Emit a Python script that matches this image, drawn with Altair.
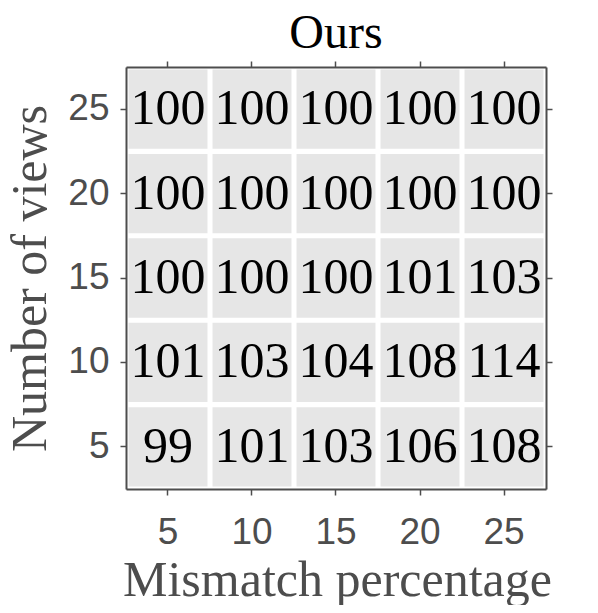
import altair as alt
import pandas as pd

mismatch = [5, 10, 15, 20, 25]
views = [25, 20, 15, 10, 5]
values = [
    [100, 100, 100, 100, 100],
    [100, 100, 100, 100, 100],
    [100, 100, 100, 101, 103],
    [101, 103, 104, 108, 114],
    [99, 101, 103, 106, 108],
]

rows = []
for i, v in enumerate(views):
    for j, m in enumerate(mismatch):
        rows.append({"x": m, "y": v, "val": values[i][j]})
df = pd.DataFrame(rows)

xscale = alt.Scale(domain=mismatch, paddingInner=0.06, paddingOuter=0.03)
yscale = alt.Scale(domain=views, paddingInner=0.06, paddingOuter=0.03)

gray = "#4d4d4d"
common = dict(tickSize=6, tickColor=gray, tickWidth=1.5, domain=True,
              domainColor=gray, domainWidth=2, grid=False)

xaxis = alt.Axis(
    orient="bottom", title="Mismatch percentage", labelAngle=0,
    labelFont="Liberation Sans", labelFontSize=37, labelColor=gray,
    labelPadding=19,
    titleFont="Liberation Serif", titleFontSize=50, titleFontWeight="normal",
    titleColor=gray, titleX=211, titleY=106, titleBaseline="alphabetic",
    titleAlign="center", titleAnchor="middle", **common,
)
yaxis = alt.Axis(
    orient="left", title="Number of views",
    labelFont="Liberation Sans", labelFontSize=37, labelColor=gray,
    labelPadding=11,
    titleFont="Liberation Serif", titleFontSize=50, titleFontWeight="normal",
    titleColor=gray, titleX=-81, titleY=211, titleAngle=270,
    titleBaseline="alphabetic", titleAlign="center", titleAnchor="middle",
    **common,
)
xaxis_top = alt.Axis(orient="top", title=None, labels=False, **common)
yaxis_right = alt.Axis(orient="right", title=None, labels=False, **common)

base = alt.Chart(df)

rect = base.mark_rect(color="#e6e6e6").encode(
    x=alt.X("x:O", scale=xscale, axis=xaxis),
    y=alt.Y("y:O", scale=yscale, axis=yaxis),
)
text = base.mark_text(font="Liberation Serif", fontSize=50, color="black",
                      baseline="middle").encode(
    x=alt.X("x:O", scale=xscale, axis=xaxis),
    y=alt.Y("y:O", scale=yscale, axis=yaxis),
    text="val:Q",
)
ticks2 = base.mark_rect(opacity=0).encode(
    x=alt.X("x:O", scale=xscale, axis=xaxis_top),
    y=alt.Y("y:O", scale=yscale, axis=yaxis_right),
)

main = alt.layer(rect, text)
chart = alt.layer(main, ticks2).resolve_scale(
    x="independent", y="independent"
).properties(
    width=420, height=422,
    title=alt.TitleParams(text="Ours", font="Liberation Serif", fontSize=48,
                          fontWeight="normal", color="black", anchor="middle",
                          frame="group", offset=2),
    autosize=alt.AutoSizeParams(type="none"),
    padding={"left": 118, "top": 59, "right": 44, "bottom": 116},
).configure_view(
    strokeWidth=0
).configure(background="white")

chart.save("out.html", embed_options={"renderer": "svg", "actions": False})
